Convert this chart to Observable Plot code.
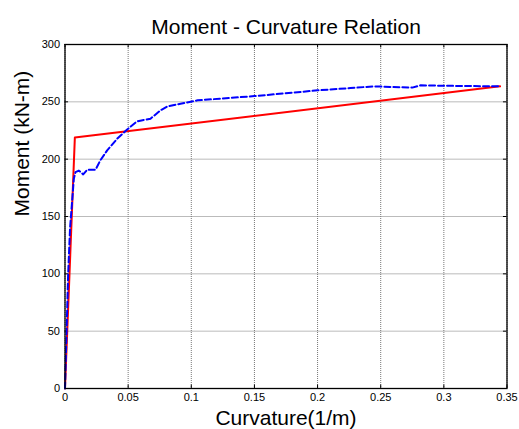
<!DOCTYPE html>
<html>
<head>
<meta charset="utf-8">
<script src="https://cdn.jsdelivr.net/npm/d3@7"></script>
<script src="https://cdn.jsdelivr.net/npm/@observablehq/plot@0.6"></script>
<style>
  html, body { margin: 0; padding: 0; background: #fff; }
  svg { display: block; }
</style>
</head>
<body>
<div id="chart"></div>
<script>
const titleText = "Moment - Curvature Relation";
const xLabel = "Curvature(1/m)";
const yLabel = "Moment (kN-m)";

const xTicks = [0, 0.05, 0.1, 0.15, 0.2, 0.25, 0.3, 0.35];
const yTicks = [0, 50, 100, 150, 200, 250, 300];

// Bilinear idealization (red)
const curvRed = [0, 0.0078, 0.3445];
const momRed = [0, 218.8, 263.5];

// Analysis curve (blue dashed)
const curvBlue = [0, 0.001, 0.0025, 0.004, 0.0057, 0.007, 0.0083, 0.011, 0.0144, 0.0176, 0.0242, 0.028, 0.0334, 0.0414, 0.049, 0.057, 0.0677, 0.0757, 0.081, 0.0915, 0.105, 0.15, 0.2, 0.226, 0.2447, 0.275, 0.2817, 0.3, 0.3445];
const momBlue = [0, 40, 100, 140, 164, 183, 188.7, 190, 186.7, 190.8, 190.8, 199, 207.7, 217.9, 225.7, 233, 235.3, 242.6, 246, 248.3, 251.3, 255, 260, 262, 263.5, 262.4, 264.4, 264, 263.5];

const red = curvRed.map((c, i) => ({x: c, y: momRed[i]}));
const blue = curvBlue.map((c, i) => ({x: c, y: momBlue[i]}));

const font = "'Liberation Sans', Arial, Helvetica, sans-serif";

const chart = Plot.plot({
  width: 519,
  height: 429,
  marginLeft: 64.5,
  marginRight: 12.5,
  marginTop: 44,
  marginBottom: 41,
  style: {fontFamily: font, background: "#fff", color: "#000"},
  x: {domain: [0, 0.35]},
  y: {domain: [0, 300]},
  marks: [
    Plot.gridX(xTicks, {stroke: "#777", strokeOpacity: 1, strokeDasharray: "1,1"}),
    Plot.gridY(yTicks, {stroke: "#777", strokeOpacity: 1, strokeDasharray: "1,1"}),
    // inward tick marks on all four sides
    Plot.ruleX(xTicks, {y1: 0, y2: 3, stroke: "#000"}),
    Plot.ruleX(xTicks, {y1: 297, y2: 300, stroke: "#000"}),
    Plot.ruleY(yTicks, {x1: 0, x2: 0.0028, stroke: "#000"}),
    Plot.ruleY(yTicks, {x1: 0.3472, x2: 0.35, stroke: "#000"}),
    Plot.line(red, {x: "x", y: "y", stroke: "#ff0000", strokeWidth: 2}),
    Plot.line(blue, {x: "x", y: "y", stroke: "#0000ff", strokeWidth: 2, strokeDasharray: "6,3"}),
    Plot.frame({stroke: "#000", strokeWidth: 1.3}),
    Plot.axisX(xTicks, {tickSize: 0, tickPadding: 5, fontSize: 11, label: null, tickFormat: d => String(d)}),
    Plot.axisY(yTicks, {tickSize: 0, tickPadding: 5, fontSize: 11, label: null, tickFormat: d => String(d)}),
    Plot.text([titleText], {frameAnchor: "top", dy: -17.5, fontSize: 21, fill: "#000", lineAnchor: "middle"}),
    Plot.text([xLabel], {frameAnchor: "bottom", dy: 30, fontSize: 21, fill: "#000", lineAnchor: "middle"}),
    Plot.text([yLabel], {frameAnchor: "left", dx: -43, rotate: -90, fontSize: 21, fill: "#000", lineAnchor: "middle"})
  ]
});

document.getElementById("chart").appendChild(chart);
</script>
</body>
</html>
